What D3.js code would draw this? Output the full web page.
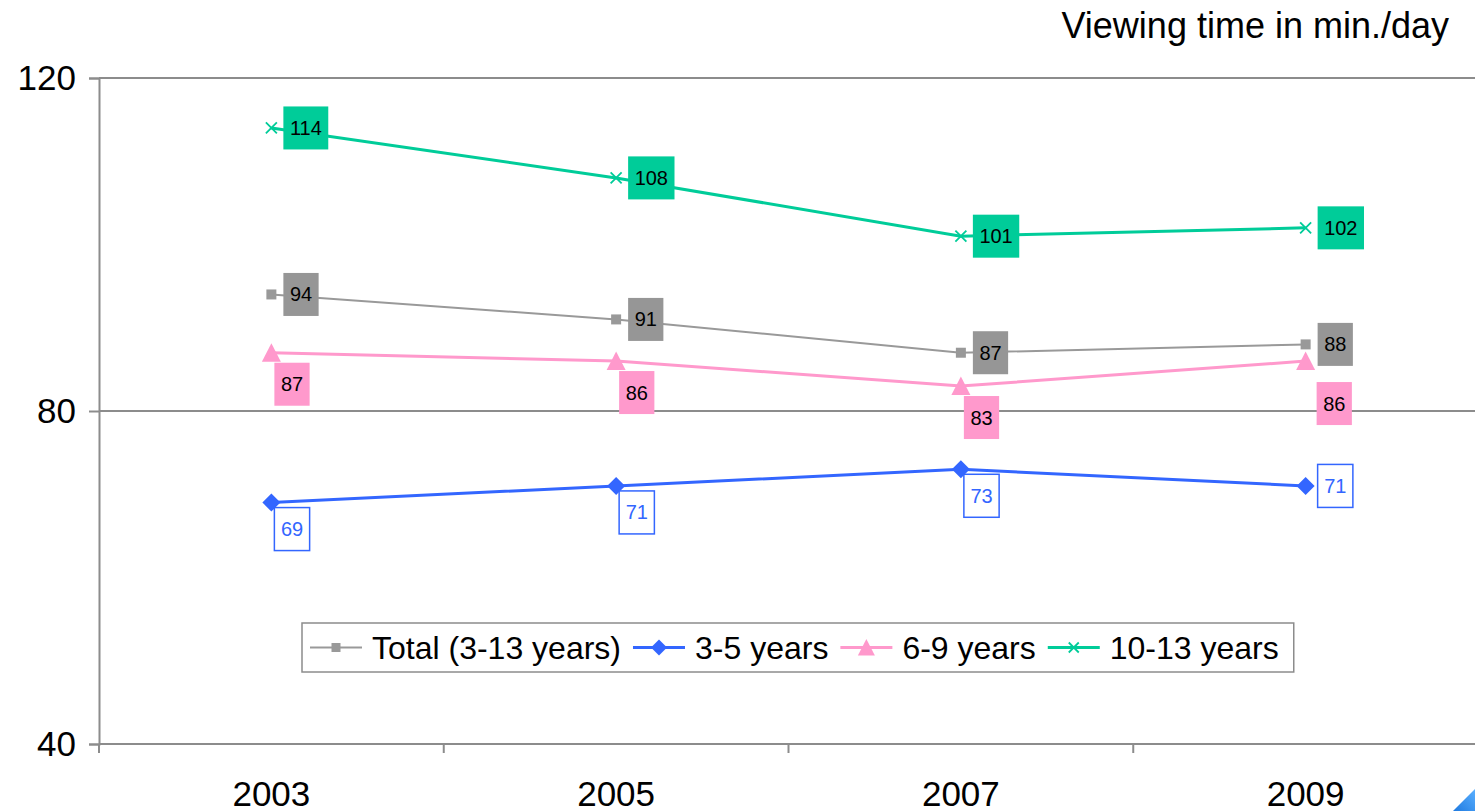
<!DOCTYPE html>
<html lang="en">
<head>
    <meta charset="UTF-8">
    <title>Viewing time</title>
    <script src="https://cdnjs.cloudflare.com/ajax/libs/d3/7.8.5/d3.min.js"></script>
    <style>
        body { margin: 0; background: #fff; }
        svg { display: block; font-family: "Liberation Sans", Arial, sans-serif; }
    </style>
</head>
<body>
    <svg width="1475" height="811"></svg>

    <script>
        // data
        var years = ["2003", "2005", "2007", "2009"];
        var seriesNames = ["Total (3-13 years)", "3-5 years", "6-9 years", "10-13 years"];
        var total = [94, 91, 87, 88];
        var age3to5 = [69, 71, 73, 71];
        var age6to9 = [87, 86, 83, 86];
        var age10to13 = [114, 108, 101, 102];
        var yTicks = [40, 80, 120];
        var yTitle = "Viewing time in min./day";

        // look of each series (kept apart from the values)
        var looks = [
            { color: "#999999", width: 2, marker: "square", fill: "#969696", text: "#000", boxStroke: null,
              place: ["right", "right", "right", "right"] },
            { color: "#3366FF", width: 3, marker: "diamond", fill: "#fff", text: "#3366FF", boxStroke: "#3366FF",
              place: ["below", "below", "below", "right"] },
            { color: "#FF99CC", width: 3, marker: "triangle", fill: "#FF99CC", text: "#000", boxStroke: null,
              place: ["below", "below", "below", "rightBelow"] },
            { color: "#00CC99", width: 3, marker: "cross", fill: "#00CC99", text: "#000", boxStroke: null,
              place: ["right", "right", "right", "right"] }
        ];
        var values = [total, age3to5, age6to9, age10to13];

        var series = seriesNames.map(function(name, i) {
            return Object.assign({ name: name, values: values[i] }, looks[i]);
        });

        var svg = d3.select("svg");
        var plotLeft = 99, plotRight = 1478, plotTop = 78, plotBottom = 744;

        var x = d3.scaleBand().domain(years).range([plotLeft, plotRight]);
        var y = d3.scaleLinear().domain([40, 120]).range([plotBottom, plotTop]);

        function markerPath(type, r) {
            if (type === "square") return "M" + (-r) + "," + (-r) + "h" + (2 * r) + "v" + (2 * r) + "h" + (-2 * r) + "Z";
            if (type === "diamond") return "M0," + (-r) + "L" + r + ",0L0," + r + "L" + (-r) + ",0Z";
            if (type === "triangle") return "M0," + (-r) + "L" + r + "," + (r * 0.95) + "L" + (-r) + "," + (r * 0.95) + "Z";
            return "M" + (-r) + "," + (-r) + "L" + r + "," + r + "M" + r + "," + (-r) + "L" + (-r) + "," + r;
        }
        var markerSize = { square: 5, diamond: 9, triangle: 9.5, cross: 5.5 };
        var legendMarkerSize = { square: 4.5, diamond: 8, triangle: 8.5, cross: 5 };

        // gridlines
        svg.append("g")
            .selectAll("line")
            .data(yTicks)
            .join("line")
            .attr("x1", plotLeft).attr("x2", 1475)
            .attr("y1", d => y(d)).attr("y2", d => y(d))
            .attr("stroke", "#8c8c8c")
            .attr("stroke-width", 2);

        // y axis
        var yAxis = svg.append("g")
            .attr("transform", "translate(" + plotLeft + ",0)")
            .call(d3.axisLeft(y).tickValues(yTicks).tickSize(10).tickPadding(13).tickFormat(d3.format("d")));
        yAxis.select(".domain").attr("stroke", "#8c8c8c").attr("stroke-width", 2);
        yAxis.selectAll(".tick line").attr("stroke", "#8c8c8c").attr("stroke-width", 2);
        yAxis.selectAll("text").attr("font-size", 35).attr("fill", "#000")
            .style("font-family", "'Liberation Sans', Arial, sans-serif");

        // x axis: labels centred, ticks on band edges
        var xAxis = svg.append("g")
            .attr("transform", "translate(0," + plotBottom + ")")
            .call(d3.axisBottom(x).tickSize(0).tickPadding(37));
        xAxis.select(".domain").remove();
        xAxis.selectAll("text").attr("font-size", 35).attr("fill", "#000")
            .style("font-family", "'Liberation Sans', Arial, sans-serif");
        xAxis.selectAll(".edge")
            .data(years)
            .join("line")
            .attr("class", "edge")
            .attr("x1", d => x(d)).attr("x2", d => x(d))
            .attr("y1", 0).attr("y2", 9)
            .attr("stroke", "#8c8c8c").attr("stroke-width", 2);

        // title
        svg.append("text")
            .attr("x", 1449).attr("y", 38)
            .attr("text-anchor", "end")
            .attr("font-size", 36)
            .text(yTitle);

        var px = (d, i) => x(years[i]) + x.bandwidth() / 2;

        // lines
        var line = d3.line().x(px).y(d => y(d));
        svg.append("g").selectAll("path")
            .data(series)
            .join("path")
            .attr("fill", "none")
            .attr("stroke", d => d.color)
            .attr("stroke-width", d => d.width)
            .attr("d", d => line(d.values));

        // markers
        series.forEach(function(s) {
            svg.append("g").selectAll("path")
                .data(s.values)
                .join("path")
                .attr("transform", (d, i) => "translate(" + px(d, i) + "," + y(d) + ")")
                .attr("d", markerPath(s.marker, markerSize[s.marker]))
                .attr("fill", s.marker === "cross" ? "none" : s.color)
                .attr("stroke", s.marker === "cross" ? s.color : "none")
                .attr("stroke-width", 1.8);
        });

        // data labels
        series.forEach(function(s) {
            var g = svg.append("g").selectAll("g")
                .data(s.values)
                .join("g");
            g.append("text")
                .attr("font-size", 20)
                .attr("fill", s.text)
                .attr("text-anchor", "middle")
                .attr("dy", "0.35em")
                .text(d => d);
            g.each(function(d, i) {
                var t = d3.select(this).select("text");
                var w = t.node().getComputedTextLength() + 13;
                var h = 43;
                var cx = px(d, i), cy = y(d);
                var bx, by;
                var p = s.place[i];
                if (p === "right") { bx = cx + 12; by = cy - h / 2; }
                else if (p === "rightBelow") { bx = cx + 11; by = cy + 21; }
                else { bx = cx + 3; by = cy + (s.boxStroke ? 5 : 10); }
                d3.select(this).insert("rect", "text")
                    .attr("x", bx).attr("y", by)
                    .attr("width", w).attr("height", h)
                    .attr("fill", s.fill)
                    .attr("stroke", s.boxStroke || "none")
                    .attr("stroke-width", 1.5);
                t.attr("x", bx + w / 2).attr("y", by + h / 2);
            });
        });

        // legend
        var legend = svg.append("g");
        var lx = 302, ly = 623, lh = 49, cursor = lx + 8;
        var legendBox = legend.append("rect")
            .attr("x", lx).attr("y", ly).attr("height", lh)
            .attr("fill", "#fff").attr("stroke", "#8c8c8c").attr("stroke-width", 1.5);
        series.forEach(function(s, i) {
            var my = ly + lh / 2;
            legend.append("line")
                .attr("x1", cursor).attr("x2", cursor + 52)
                .attr("y1", my).attr("y2", my)
                .attr("stroke", s.color).attr("stroke-width", s.width);
            legend.append("path")
                .attr("transform", "translate(" + (cursor + 26) + "," + my + ")")
                .attr("d", markerPath(s.marker, legendMarkerSize[s.marker]))
                .attr("fill", s.marker === "cross" ? "none" : s.color)
                .attr("stroke", s.marker === "cross" ? s.color : "none")
                .attr("stroke-width", 1.8);
            var t = legend.append("text")
                .attr("x", cursor + 62).attr("y", my)
                .attr("dy", "0.35em")
                .attr("font-size", 32)
                .text(s.name);
            cursor += 62 + t.node().getComputedTextLength() + (i < series.length - 1 ? 12 : 15);
        });
        legendBox.attr("width", cursor - lx);

        // little corner mark of the slide
        var grad = svg.append("defs").append("linearGradient")
            .attr("id", "corner").attr("x1", 0).attr("y1", 1).attr("x2", 1).attr("y2", 0);
        grad.append("stop").attr("offset", 0).attr("stop-color", "#1f7ae0");
        grad.append("stop").attr("offset", 1).attr("stop-color", "#5ab0ff");
        svg.append("path")
            .attr("d", "M1475,789L1475,811L1453,811Z")
            .attr("fill", "url(#corner)");
    </script>
</body>
</html>
